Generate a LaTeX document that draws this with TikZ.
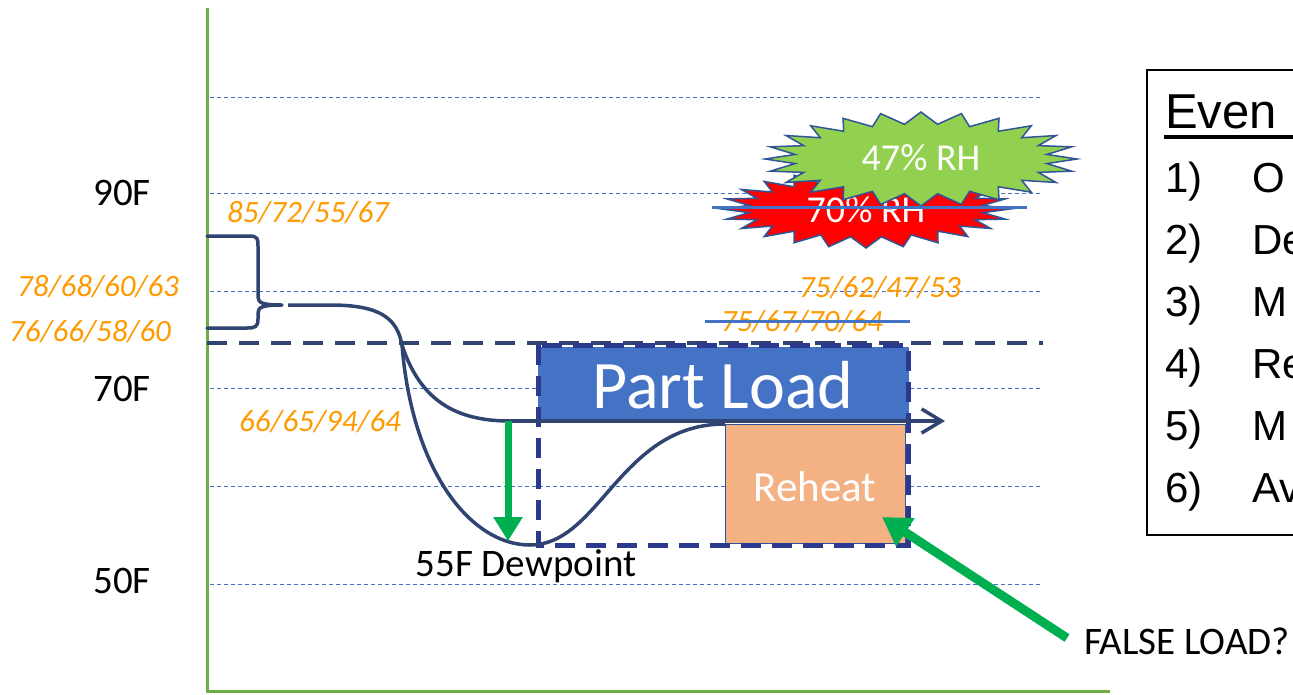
\documentclass[tikz,border=0pt]{standalone}
\usepackage{fontspec}
\setmainfont{Carlito}
\newfontfamily\arialf{Liberation Sans}
\usetikzlibrary{arrows.meta}
\definecolor{navy}{HTML}{2F4470}
\definecolor{rectblue}{HTML}{2B3A8F}
\definecolor{gridblue}{HTML}{4472C4}
\definecolor{axisgreen}{HTML}{70AD47}
\definecolor{arrgreen}{HTML}{00B050}
\definecolor{orangetxt}{HTML}{FF9900}
\definecolor{partblue}{HTML}{4472C4}
\definecolor{reheatfill}{HTML}{F4B183}
\definecolor{burstline}{HTML}{2F5597}
\definecolor{burstgreen}{HTML}{92D050}
\tikzset{
  gridline/.style={gridblue, line width=0.9pt, dash pattern=on 4pt off 3pt},
  axisline/.style={axisgreen, line width=3pt},
  curveline/.style={navy, line width=3.5pt},
  valtext/.style={text=orangetxt, font=\fontsize{31}{33}\selectfont\itshape, inner sep=0pt},
  axtext/.style={text=black, font=\fontsize{39}{41}\selectfont, inner sep=0pt},
  greenarrow/.style={arrgreen},
  strike/.style={gridblue, line width=3pt},
  legtext/.style={font=\arialf\fontsize{42}{44}\selectfont, anchor=base west, inner sep=0pt},
}
\begin{document}
\begin{tikzpicture}[x=1pt,y=-1pt]
\useasboundingbox (0,0) rectangle (1293,694);
% grid lines
\foreach \yy in {97,193,291,388,486,584} {\draw[gridline] (210,\yy) -- (1040,\yy);}
% axes
\draw[axisline] (207,8) -- (207,692);
\draw[axisline] (205.5,691) -- (1110,691);
% long dashed line
\draw[navy, line width=4pt, dash pattern=on 20pt off 12pt] (207,343) -- (1043,343);
% boxes
\node[fill=partblue, draw=partblue, line width=1pt, minimum width=370pt, minimum height=74pt, inner sep=0pt, anchor=north west] (part) at (538,347) {};
\node[text=white, font=\fontsize{68}{70}\selectfont, inner sep=0pt] (partlabel) at (723,385) {Part Load};
\node[fill=reheatfill, draw=burstline, line width=1.2pt, minimum width=180pt, minimum height=119pt, inner sep=0pt, anchor=north west] (reheat) at (725,424) {};
\node[text=white, font=\fontsize{43}{45}\selectfont, inner sep=0pt] (reheatlabel) at (815,487) {Reheat};
% dashed rectangle
\draw[rectblue, line width=5pt, dash pattern=on 20pt off 11pt] (538,345) rectangle (908,545);
% brace
\coordinate (bracetip) at (282,305);
\draw[curveline, line cap=round, line join=round] (207,236) -- (249,236) .. controls (258,236) and (258,239) .. (258,246) -- (258,297) .. controls (258,303) and (263,305) .. (bracetip) .. controls (263,305) and (258,307) .. (258,313) -- (258,319) .. controls (258,327) and (255,328) .. (247,328) -- (207,328);
% curves
\coordinate (c0) at (288,305);
\coordinate (split) at (402,345);
\coordinate (flat) at (510,421);
\coordinate (bottom) at (530,545);
\coordinate (rise) at (725,424);
\coordinate (arrowend) at (945,421);
\draw[curveline] (c0) -- (330,305) .. controls (380,305) and (397,318) .. (split);
\draw[curveline] (split) .. controls (420,400) and (455,421) .. (flat);
\draw[curveline] (split) .. controls (412,470) and (470,545) .. (bottom) .. controls (600,545) and (620,424) .. (rise);
\draw[curveline, -{Straight Barb[length=20pt,width=24pt,line width=3.5pt]}] (flat) -- (arrowend);
% green arrows
\coordinate (ga1s) at (508,421);
\coordinate (ga1e) at (508,541);
\draw[arrgreen, line width=7pt, -{Triangle[length=24pt,width=28pt]}] (ga1s) -- (ga1e);
\coordinate (ga2s) at (1067,638);
\coordinate (ga2e) at (882,517);
\draw[arrgreen, line width=9pt, -{Triangle[length=28pt,width=32pt]}] (ga2s) -- (ga2e);
% starbursts
\draw[fill=red, draw=burstline, line width=1.5pt, line join=miter]
  (866+144,209) \foreach \k in {0,...,23} { -- ({866+118*cos(\k*15+7.5)},{209+28*sin(\k*15+7.5)}) -- ({866+144*cos(\k*15+15)},{209+39*sin(\k*15+15)}) } -- cycle;
\node[text=white, font=\fontsize{38}{40}\selectfont, inner sep=0pt] (rh70) at (866,210) {70\% RH};
\draw[strike] (712,207) -- (1027,207);
\draw[fill=burstgreen, draw=burstline, line width=1.5pt, line join=miter]
  (921+156,159) \foreach \k in {0,...,23} { -- ({921+127*cos(\k*15+7.5)},{159+35*sin(\k*15+7.5)}) -- ({921+156*cos(\k*15+15)},{159+47*sin(\k*15+15)}) } -- cycle;
\node[text=white, font=\fontsize{38}{40}\selectfont, inner sep=0pt] (rh47) at (921,158) {47\% RH};
% axis labels
\node[axtext] (t90) at (122,193) {90F};
\node[axtext] (t70) at (122,389) {70F};
\node[axtext] (t50) at (122,581) {50F};
\node[axtext] (dew) at (526,566) {55F Dewpoint};
\node[axtext] (false) at (1187,641) {FALSE LOAD?};
% orange values
\node[valtext] (v1) at (308,213) {85/72/55/67};
\node[valtext] (v2) at (98,287) {78/68/60/63};
\node[valtext] (v3) at (90,332) {76/66/58/60};
\node[valtext] (v4) at (320,422) {66/65/94/64};
\node[valtext] (v5) at (880,288) {75/62/47/53};
\node[valtext] (v6) at (802,322) {75/67/70/64};
\draw[strike] (705,321) -- (910,321);
% legend
\begin{scope}
\clip (1100,0) rectangle (1293,694);
\draw[black, line width=1.5pt] (1147,70) rectangle (1320,535);
\node[legtext, font=\arialf\fontsize{49}{51}\selectfont] (leg0) at (1165,128) {Even};
\draw[black, line width=3.5pt] (1164,137) -- (1300,137);
\node[legtext] (leg1) at (1165,192) {\makebox[87pt][l]{1)}O};
\node[legtext] (leg2) at (1165,254) {\makebox[87pt][l]{2)}De};
\node[legtext] (leg3) at (1165,316) {\makebox[87pt][l]{3)}M};
\node[legtext] (leg4) at (1165,378) {\makebox[87pt][l]{4)}Re};
\node[legtext] (leg5) at (1165,440) {\makebox[87pt][l]{5)}M};
\node[legtext] (leg6) at (1165,502) {\makebox[87pt][l]{6)}Av};
\end{scope}
\end{tikzpicture}
\end{document}
